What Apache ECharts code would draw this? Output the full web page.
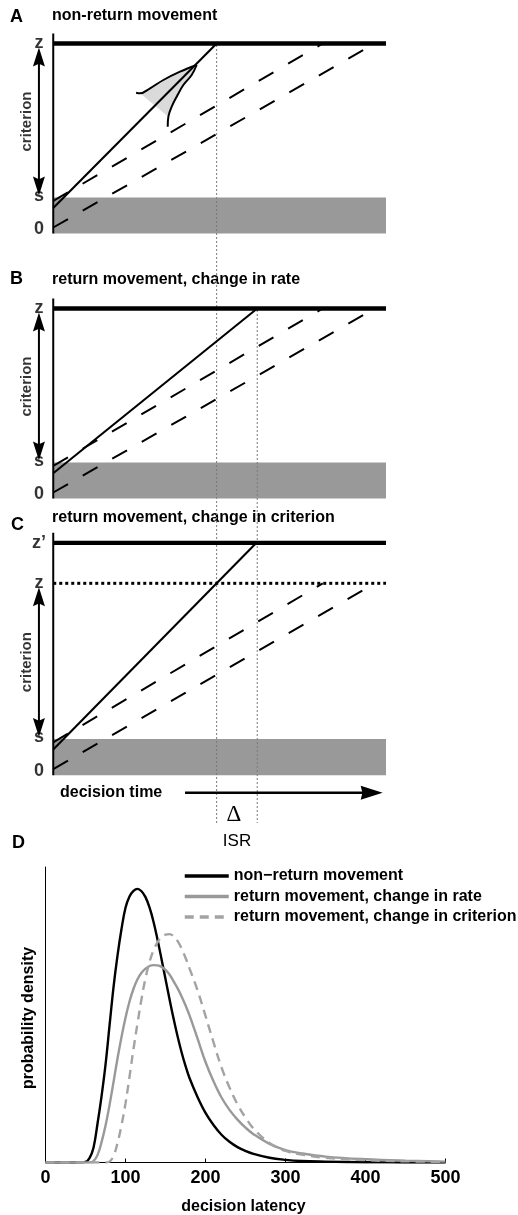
<!DOCTYPE html>
<html><head><meta charset="utf-8">
<script src="https://cdn.jsdelivr.net/npm/echarts@6/dist/echarts.min.js"></script>
<style>html,body{margin:0;padding:0;background:#fff}#c{width:518px;height:1215px}</style>
</head><body><div id="c"></div>
<script>
// ---------------- DATA: panels A–C (decision time units / criterion units)
const criterionZ = 92;          // criterion z
const criterionZPrime = 112;    // raised criterion z' (panel C)
const startS = 15;              // level s
const floorY = -3;              // bottom of grey band
const timeEnd = 100;
const solidA = [[0, 9.75], [49.1, 92]];      // non-return accumulator
const solidB = [[0, 9.6], [61.3, 92]];       // return movement, slower rate
const solidC = [[0, 9.75], [61.0, 112]];     // return movement, higher criterion
const dashUpper = [[0, 13.3], [81.0, 92]];
const dashLower = [[0, 0], [93.7, 89.2]];
const isrTimes = [49.1, 61.3];
const levelsAB = [['z', 92], ['s', 15.5], ['0', -0.7]];
const levelsC = [['z\u2019', 112], ['z', 92], ['s', 16], ['0', -1]];
const arrowSpan = [16, 90];
const distUpper = [[43.1, 81.25], [38.1, 77.9], [33.1, 73.75], [29.1, 69.6], [26.1, 67.1], [24.9, 67.4]];
const distLower = [[43.1, 81.25], [41.6, 76.25], [39.1, 71.25], [37.1, 65.4], [35.6, 60.4], [34.6, 55.4], [34.4, 50.4]];

// ---------------- DATA: panel D
const latency = [0, 40, 50, 55, 60, 65, 70, 75, 80, 85, 90, 95, 100, 105, 110, 115, 120, 125, 130, 135, 140, 145, 150, 155, 160, 165, 170, 175, 180, 190, 200, 210, 220, 230, 240, 250, 260, 280, 300, 320, 350, 400, 450, 500];
const nonReturn = [0, 0, 0.002, 0.015, 0.05, 0.131, 0.223, 0.33, 0.462, 0.593, 0.70, 0.79, 0.862, 0.90, 0.919, 0.926, 0.918, 0.898, 0.863, 0.815, 0.755, 0.689, 0.621, 0.553, 0.488, 0.428, 0.374, 0.327, 0.286, 0.222, 0.168, 0.127, 0.094, 0.07, 0.052, 0.039, 0.029, 0.016, 0.009, 0.005, 0.003, 0.001, 0, 0];
const returnRate = [0, 0, 0, 0, 0.005, 0.025, 0.068, 0.124, 0.194, 0.272, 0.352, 0.425, 0.49, 0.545, 0.588, 0.62, 0.642, 0.656, 0.665, 0.668, 0.667, 0.662, 0.652, 0.636, 0.614, 0.59, 0.563, 0.532, 0.498, 0.42, 0.34, 0.275, 0.22, 0.178, 0.145, 0.118, 0.096, 0.063, 0.042, 0.031, 0.02, 0.011, 0.006, 0.003];
const returnCrit = [0, 0, 0, 0, 0, 0, 0, 0, 0.003, 0.022, 0.066, 0.126, 0.2, 0.29, 0.384, 0.471, 0.553, 0.624, 0.678, 0.718, 0.745, 0.762, 0.771, 0.773, 0.766, 0.75, 0.725, 0.693, 0.657, 0.583, 0.496, 0.407, 0.322, 0.254, 0.197, 0.152, 0.115, 0.066, 0.039, 0.027, 0.016, 0.008, 0.004, 0.002];
const latencyTicks = [0, 100, 200, 300, 400, 500];
const seriesNames = ['non\u2212return movement', 'return movement, change in rate', 'return movement, change in criterion'];

// ---------------- LAYOUT / STYLE
const FONT = '"Liberation Sans", Arial, sans-serif';
const panels = [
  {top: 33.5, height: 200, yMax: 97, zTop: criterionZ, solid: solidA, levels: levelsAB},
  {top: 298.5, height: 200, yMax: 97, zTop: criterionZ, solid: solidB, levels: levelsAB},
  {top: 532.8, height: 242.5, yMax: 117, zTop: criterionZPrime, solid: solidC, levels: levelsC}
];
const labelX = -4.3, critX = -8.0;
const isrTop = [45, 310], isrBottom = 823;
const timeArrow = [39.6, 792.7, 99, 792.7];

function seg(gi, data, style, z) {
  return {type: 'line', xAxisIndex: gi, yAxisIndex: gi, data: data, symbol: 'none', silent: true,
          z: z || 3, lineStyle: style, animation: false};
}
function arrowRender(spec) {
  return function (params, api) {
    const a = api.coord([api.value(0), api.value(1)]);
    const b = api.coord([api.value(2), api.value(3)]);
    const dx = b[0] - a[0], dy = b[1] - a[1], L = Math.hypot(dx, dy), ux = dx / L, uy = dy / L;
    const head = (tip, sx, sy) => {
      const bx = tip[0] - sx * spec.len, by = tip[1] - sy * spec.len, nx = -sy, ny = sx;
      return [tip, [bx + nx * spec.half, by + ny * spec.half],
              [tip[0] - sx * spec.len * spec.notch, tip[1] - sy * spec.len * spec.notch],
              [bx - nx * spec.half, by - ny * spec.half]];
    };
    let s = a, e = b; const kids = [];
    if (spec.start) { kids.push({type: 'polygon', shape: {points: head(a, -ux, -uy)}, style: {fill: '#000'}});
      s = [a[0] + ux * spec.len * 0.7, a[1] + uy * spec.len * 0.7]; }
    if (spec.end) { kids.push({type: 'polygon', shape: {points: head(b, ux, uy)}, style: {fill: '#000'}});
      e = [b[0] - ux * spec.len * 0.7, b[1] - uy * spec.len * 0.7]; }
    kids.unshift({type: 'line', shape: {x1: s[0], y1: s[1], x2: e[0], y2: e[1]}, style: {stroke: '#000', lineWidth: spec.lw}});
    return {type: 'group', children: kids};
  };
}

const grids = [], xAxes = [], yAxes = [], series = [];
panels.forEach((p, i) => {
  grids.push({left: 0, width: 386, top: p.top, height: p.height, containLabel: false, outerBoundsMode: 'none'});
  xAxes.push({gridIndex: i, type: 'value', min: -16, max: timeEnd, show: false});
  yAxes.push({gridIndex: i, type: 'value', min: floorY, max: p.yMax, show: false});
  series.push({type: 'custom', coordinateSystem: 'cartesian2d', xAxisIndex: i, yAxisIndex: i, z: 1, silent: true,
    data: [[0, floorY, timeEnd, startS]], encode: {x: [0, 2], y: [1, 3]},
    renderItem: (params, api) => {
      const a = api.coord([api.value(0), api.value(3)]), b = api.coord([api.value(2), api.value(1)]);
      return {type: 'rect', shape: {x: a[0], y: a[1], width: b[0] - a[0], height: b[1] - a[1]}, style: {fill: '#999999'}};
    }});
  series.push(seg(i, [[0, floorY], [0, p.yMax]], {color: '#000', width: 2}));
  series.push(seg(i, [[0, p.zTop], [timeEnd, p.zTop]], {color: '#000', width: 4.3}));
  if (i === 2) series.push(seg(i, [[0, criterionZ], [timeEnd, criterionZ]], {color: '#000', width: 3, type: [3, 3]}));
  series.push(seg(i, dashUpper, {color: '#000', width: 2, type: [17, 17]}));
  series.push(seg(i, dashLower, {color: '#000', width: 2, type: [17, 17]}));
  series.push(seg(i, p.solid, {color: '#000', width: 2.1}, 4));
  series.push({type: 'custom', coordinateSystem: 'cartesian2d', xAxisIndex: i, yAxisIndex: i, z: 5, silent: true,
    data: [[labelX, arrowSpan[0], labelX, arrowSpan[1]]], encode: {x: [0, 2], y: [1, 3]},
    renderItem: arrowRender({start: true, end: true, len: 19, half: 6, notch: 0.85, lw: 2})});
  series.push({type: 'scatter', xAxisIndex: i, yAxisIndex: i, symbolSize: 1, silent: true, z: 6,
    itemStyle: {color: 'rgba(0,0,0,0)'},
    data: p.levels.map(l => [labelX, l[1], l[0]]),
    label: {show: true, position: 'inside', formatter: q => q.value[2], fontFamily: FONT, fontWeight: 'bold', fontSize: 18, color: '#000'}});
  series.push({type: 'scatter', xAxisIndex: i, yAxisIndex: i, symbolSize: 1, silent: true, z: 6,
    itemStyle: {color: 'rgba(0,0,0,0)'},
    data: [[critX, (arrowSpan[0] + arrowSpan[1]) / 2, 'criterion']],
    label: {show: true, position: 'inside', rotate: 90, formatter: q => q.value[2], fontFamily: FONT, fontWeight: 'bold', fontSize: 15, color: '#000'}});
});
// distribution illustration in panel A
const distFill = distUpper.slice(0, 5).concat(distLower.slice(1, 6).reverse());
series.push({type: 'custom', coordinateSystem: 'cartesian2d', xAxisIndex: 0, yAxisIndex: 0, z: 2, silent: true,
  data: [distUpper[0]],
  renderItem: (params, api) => ({type: 'polygon', shape: {points: distFill.map(pt => api.coord(pt))}, style: {fill: '#dadada'}})});
series.push(Object.assign(seg(0, distUpper, {color: '#000', width: 2}, 4), {smooth: 0.4}));
series.push(Object.assign(seg(0, distLower, {color: '#000', width: 2}, 4), {smooth: 0.4}));

// panel D
grids.push({left: 45.5, top: 867, width: 400, height: 295.5, containLabel: false, outerBoundsMode: 'none'});
xAxes.push({gridIndex: 3, type: 'value', min: latencyTicks[0], max: latencyTicks[latencyTicks.length - 1], interval: 100,
  axisLine: {show: true, onZero: false, lineStyle: {color: '#000', width: 1}},
  axisTick: {show: true, inside: true, length: 4, lineStyle: {color: '#000', width: 1}},
  axisLabel: {show: true, margin: 7, fontFamily: FONT, fontWeight: 'bold', fontSize: 18, color: '#000'},
  splitLine: {show: false}});
yAxes.push({gridIndex: 3, type: 'value', min: 0, max: 1,
  axisLine: {show: true, lineStyle: {color: '#000', width: 1}}, axisTick: {show: false},
  axisLabel: {show: false}, splitLine: {show: false}});
const dSeries = [[nonReturn, '#000000', 'solid'], [returnRate, '#999999', 'solid'], [returnCrit, '#a3a3a3', [9, 6]]];
dSeries.forEach((d, k) => {
  series.push({type: 'line', name: seriesNames[k], xAxisIndex: 3, yAxisIndex: 3, symbol: 'none', smooth: 0.4,
    silent: true, z: 3 + k, color: d[1],
    lineStyle: {color: d[1], width: 2.4, type: d[2]},
    data: latency.map((x, j) => [x, d[0][j]])});
});

// overlay grid (whole figure rows) for the ISR guide lines and time arrow
grids.push({left: 0, width: 386, top: 0, height: 1215, containLabel: false, outerBoundsMode: 'none'});
xAxes.push({gridIndex: 4, type: 'value', min: -16, max: timeEnd, show: false});
yAxes.push({gridIndex: 4, type: 'value', min: 0, max: 1215, inverse: true, show: false});
isrTimes.forEach((t, k) => {
  series.push(seg(4, [[t, isrTop[k]], [t, isrBottom]], {color: '#7a7a7a', width: 1, type: [2, 2]}, 2));
});
series.push({type: 'custom', coordinateSystem: 'cartesian2d', xAxisIndex: 4, yAxisIndex: 4, z: 5, silent: true,
  data: [timeArrow], encode: {x: [0, 2], y: [1, 3]},
  renderItem: arrowRender({start: false, end: true, len: 22, half: 7, notch: 0.92, lw: 2.5})});

function txt(text, x, y, font, opts) {
  return Object.assign({type: 'text', x: x, y: y, silent: true,
    style: Object.assign({text: text, font: font, fill: '#000', align: 'left', verticalAlign: 'middle'}, opts || {})});
}
const B18 = 'bold 18px ' + FONT, B16 = 'bold 16px ' + FONT;
const graphic = [
  txt('A', 10, 16.7, B18), txt('non-return movement', 52, 15.5, B16),
  txt('B', 10, 279.5, B18), txt('return movement, change in rate', 52, 279.5, B16),
  txt('C', 11, 525.5, B18), txt('return movement, change in criterion', 52, 518, B16),
  txt('decision time', 60, 792.5, B16),
  txt('\u0394', 234, 815, '23px "Liberation Serif", "DejaVu Serif", serif', {align: 'center'}),
  txt('ISR', 237, 841, '17px ' + FONT, {align: 'center'}),
  txt('D', 12, 843.3, B18),
  txt('decision latency', 243.5, 1207, B16, {align: 'center'}),
  Object.assign(txt('probability density', 0, 0, B16, {align: 'center'}), {x: 28.5, y: 1018, rotation: Math.PI / 2})
];

const chart = echarts.init(document.getElementById('c'), null, {renderer: 'canvas'});
chart.setOption({
  animation: false, backgroundColor: '#ffffff',
  grid: grids, xAxis: xAxes, yAxis: yAxes,
  legend: {data: seriesNames, orient: 'vertical', left: 183, top: 868, padding: 0, itemGap: 4.5,
    itemWidth: 44, itemHeight: 14, selectedMode: false,
    itemStyle: {color: 'rgba(0,0,0,0)', borderWidth: 0},
    lineStyle: {width: 3.5},
    textStyle: {fontFamily: FONT, fontWeight: 'bold', fontSize: 16, color: '#000', lineHeight: 16}},
  graphic: graphic,
  series: series
});
</script></body></html>
